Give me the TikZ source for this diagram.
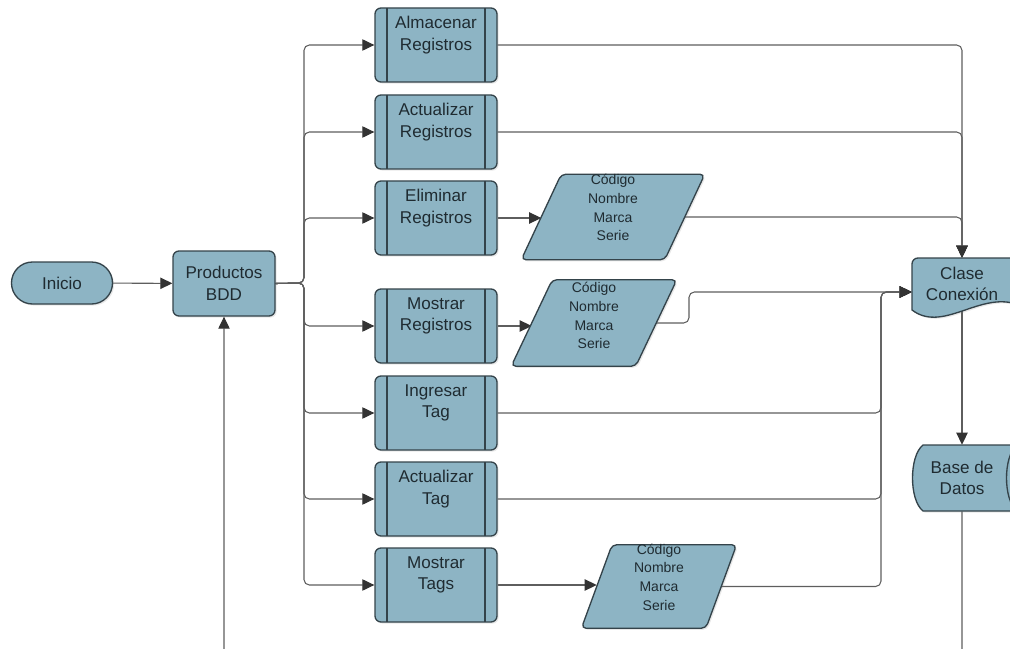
\documentclass[tikz,border=0pt]{standalone}
\usepackage{fontspec}
\setmainfont{Liberation Sans}
\usetikzlibrary{arrows.meta,shadows,calc}
\pgfdeclarelayer{edges}
\pgfdeclarelayer{shapes}
\pgfsetlayers{edges,shapes,main}

\definecolor{boxfill}{HTML}{8DB4C4}
\definecolor{boxline}{HTML}{34434A}
\definecolor{wire}{HTML}{5E5E5E}
\definecolor{tipcol}{HTML}{333333}
\definecolor{ink}{HTML}{1F2B31}

\tikzset{
  shp/.style={fill=boxfill, draw=boxline, line width=1pt,
    drop shadow={opacity=0.18, shadow xshift=1.2pt, shadow yshift=-1.2pt}},
  bigtxt/.style={font=\fontsize{12.8pt}{16.3pt}\selectfont, text=ink, align=center},
  smalltxt/.style={font=\fontsize{10.5pt}{14pt}\selectfont, text=ink, align=center, inner sep=0pt},
  term/.style={shp, bigtxt, rounded corners=15.7pt, minimum width=75.75pt,
    minimum height=31.5pt, inner sep=0pt},
  proc/.style={shp, bigtxt, rounded corners=4.5pt, minimum width=76.5pt,
    minimum height=48.75pt, inner sep=0pt},
  subbox/.style={shp, rounded corners=4.5pt, minimum width=91.5pt,
    minimum height=55.5pt, inner sep=0pt,
    path picture={\draw[boxline, line width=1pt]
      ([xshift=9pt]path picture bounding box.north west) --
      ([xshift=9pt]path picture bounding box.south west)
      ([xshift=-9pt]path picture bounding box.north east) --
      ([xshift=-9pt]path picture bounding box.south east);}},
  subtxt/.style={bigtxt, inner sep=0pt},
  frame/.style={inner sep=0pt, minimum width=#1},
  conn/.style={draw=wire, line width=0.8pt, rounded corners=4pt},
  arr/.style={conn, -{Triangle[length=9pt,width=8.5pt,color=tipcol]}}
}

\begin{document}
\begin{tikzpicture}[x=0.75pt, y=-0.75pt]
\useasboundingbox (0,0) rectangle (1010,649);

% start and main process
\node[term] (ini) at (62,283) {Inicio};
\node[proc] (prod) at (224,283.5) {Productos\\BDD};

% sub-processes
\foreach \n/\y/\t in {b1/45/{Almacenar\\Registros}, b2/132/{Actualizar\\Registros},
                      b3/218/{Eliminar\\Registros}, b4/326/{Mostrar\\Registros},
                      b5/413/{Ingresar\\Tag}, b6/499/{Actualizar\\Tag},
                      b7/585/{Mostrar\\Tags}}{
  \node[subbox] (\n) at (436,\y) {};
  \node[subtxt] (\n t) at ([yshift=7.5pt]\n.center) {\t};
}

% data (parallelogram) frames
\node[frame=107.25pt, minimum height=63.75pt] (p1) at (613,217) {};
\node[frame=93pt, minimum height=64.5pt] (p2) at (594,323) {};
\node[frame=93pt, minimum height=62.25pt] (p3) at (659,586.5) {};

% text of the document and storage symbols
\node[bigtxt, inner sep=0pt, minimum width=75pt, minimum height=39pt] (clase) at (962,284) {Clase\\Conexión};
\node[bigtxt, inner sep=0pt, minimum width=75pt, minimum height=49.5pt] (base) at (962,478) {Base de\\Datos};

\begin{pgfonlayer}{shapes}
  % parallelograms
  \draw[shp, rounded corners=3.5pt] ([xshift=15pt]p1.north west) -- ([xshift=15pt]p1.north east)
     -- ([xshift=-15pt]p1.south east) -- ([xshift=-15pt]p1.south west) -- cycle;
  \draw[shp, rounded corners=3.5pt] ([xshift=15.4pt]p2.north west) -- ([xshift=15.4pt]p2.north east)
     -- ([xshift=-15.4pt]p2.south east) -- ([xshift=-15.4pt]p2.south west) -- cycle;
  \draw[shp, rounded corners=3.5pt] ([xshift=11.5pt]p3.north west) -- ([xshift=11.5pt]p3.north east)
     -- ([xshift=-11.5pt]p3.south east) -- ([xshift=-11.5pt]p3.south west) -- cycle;
  % document symbol
  \draw[shp] (912,310) [rounded corners=4.5pt] -- (912,258) -- (1025,258) [sharp corners]
     -- (1025,308) .. controls (985,285) and (945,335) .. (912,310) -- cycle;
  % direct-access storage symbol
  \draw[shp] (923,445) -- (1017,445) .. controls (1031,456) and (1031,500) .. (1017,511)
     -- (923,511) .. controls (909,500) and (909,456) .. (923,445) -- cycle;
  \draw[boxline, line width=1pt] (1017,445) .. controls (1003,456) and (1003,500) .. (1017,511);
\end{pgfonlayer}

% data fields
\node[smalltxt] (p1t) at ([yshift=7pt]p1.center) {Código\\Nombre\\Marca\\Serie};
\node[smalltxt] (p2t) at ([yshift=5.5pt]p2.center) {Código\\Nombre\\Marca\\Serie};
\node[smalltxt] (p3t) at ([yshift=7pt]p3.center) {Código\\Nombre\\Marca\\Serie};

\coordinate (tr) at (304,283);
\coordinate (kx) at (689,292);
\coordinate (jx) at (881,292);
\coordinate (lowR) at (962,690);

\begin{pgfonlayer}{edges}
\begin{scope}
  \clip (0,0) rectangle (1010,649);
  \draw[arr] (ini) -- (prod);
  \foreach \n in {b1,b2,b3,b4,b5,b6,b7}
    \draw[arr] (prod.east) -- (tr) |- (\n.west);
  \draw[arr] (b1.east) -| (clase.north);
  \draw[arr] (b2.east) -| (clase.north);
  \draw[arr] (b3.east) -- (b3.east -| p1.west);
  \draw[arr] (b4.east) -- (b4.east -| p2.west);
  \draw[arr] (b7.east) -- (b7.east -| p3.west);
  \draw[arr] (p1.east) -| (clase.north);
  \draw[arr] (p2.east) -| (kx) -- (clase.west |- kx);
  \draw[arr] (b5.east) -| (jx) -- (clase.west |- jx);
  \draw[arr] (b6.east) -| (jx) -- (clase.west |- jx);
  \draw[arr] (p3.east) -| (jx) -- (clase.west |- jx);
  \draw[arr] (clase.south) -- (base.north);
  \draw[arr] (base.south) -- (lowR) -| (prod.south);
\end{scope}
\end{pgfonlayer}
\end{tikzpicture}
\end{document}
